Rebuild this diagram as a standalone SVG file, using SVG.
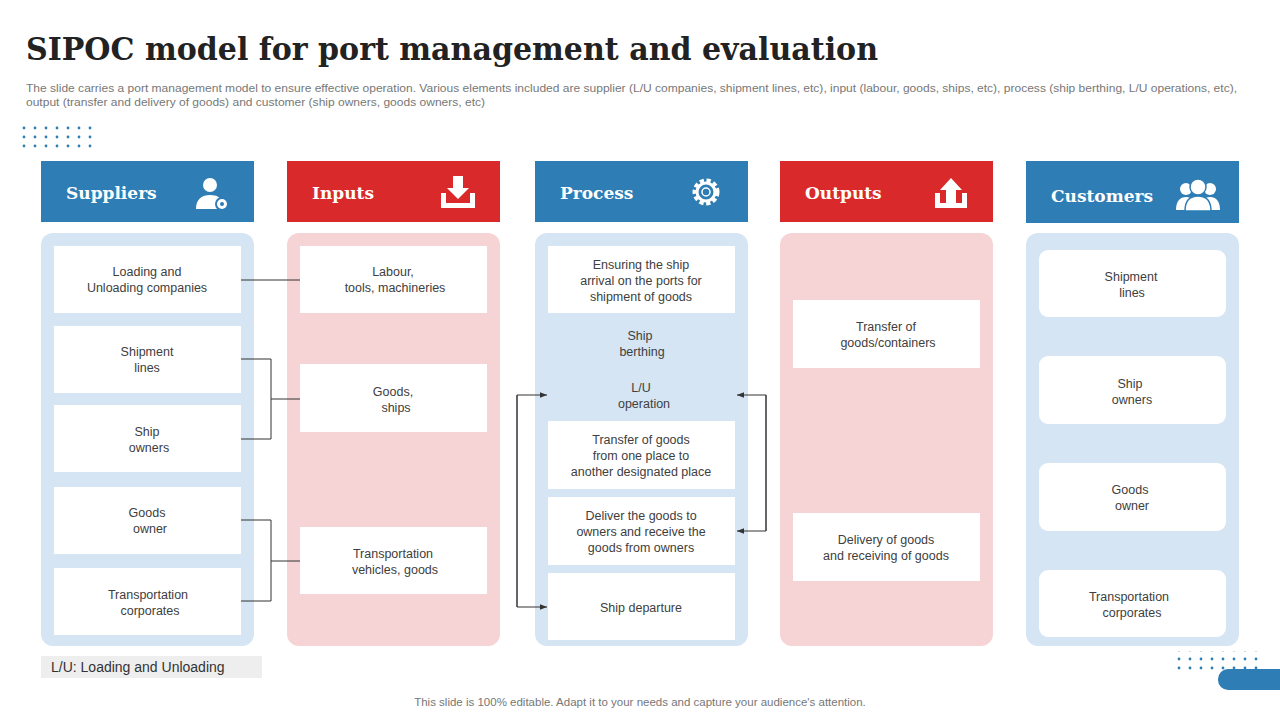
<svg xmlns="http://www.w3.org/2000/svg" width="1280" height="720" viewBox="0 0 1280 720">
<defs>
<style>
.hb{fill:#2E7DB5}.hr{fill:#D9292B}
.pb{fill:#D5E5F3}.pr{fill:#F6D3D5}
.bx{fill:#fff}
.t{font-family:"Liberation Sans","Open Sans",sans-serif;font-size:12.5px;fill:#404040;text-anchor:middle}
.h{font-family:"DejaVu Serif","Liberation Serif",serif;font-weight:bold;font-size:17px;fill:#fff}
.c{stroke:#333;stroke-width:1;fill:none}
.ic{fill:#fff}
</style>
<marker id="a" viewBox="0 0 10 10" refX="10" refY="5" markerWidth="7" markerHeight="7" orient="auto"><path d="M0,1L10,5L0,9z" fill="#333"/></marker>
<pattern id="dots" width="11" height="9" patternUnits="userSpaceOnUse"><circle cx="2" cy="2" r="1.4" fill="#2E7DB5"/></pattern>
</defs>
<rect width="1280" height="720" fill="#fff"/>
<text x="26" y="60" font-family="DejaVu Serif,Liberation Serif,serif" font-weight="bold" font-size="31" fill="#222" textLength="852" lengthAdjust="spacingAndGlyphs">SIPOC model for port management and evaluation</text>
<text font-family="Liberation Sans,Open Sans,sans-serif" font-size="10.5" fill="#777"><tspan x="26" y="92" textLength="1211" lengthAdjust="spacingAndGlyphs">The slide carries a port management model to ensure effective operation. Various elements included are supplier (L/U companies, shipment lines, etc), input (labour, goods, ships, etc), process (ship berthing, L/U operations, etc),</tspan></text>
<text x="26" y="106" font-family="Liberation Sans,Open Sans,sans-serif" font-size="10.5" fill="#777" textLength="459" lengthAdjust="spacingAndGlyphs">output (transfer and delivery of goods) and customer (ship owners, goods owners, etc)</text>
<rect x="15" y="124" width="82" height="24" fill="url(#dots)"/>
<rect x="1176" y="651" width="82" height="24" fill="url(#dots)"/>
<rect x="1218" y="669" width="80" height="21" rx="10" fill="#2E7DB5"/>

<g id="suppliers">
<rect class="hb" x="41" y="161" width="213" height="61"/>
<text class="h" x="66" y="199">Suppliers</text>
<circle class="ic" cx="210" cy="185" r="7"/><path class="ic" d="M196,209c0-10 6-14 14-14s10,3 12,6a7,7 0 0 0-2,8z"/><circle cx="222" cy="204" r="6" fill="#fff" stroke="#2E7DB5" stroke-width="2"/><circle cx="222" cy="204" r="2" fill="#2E7DB5"/>
<rect class="pb" x="41" y="233" width="213" height="413" rx="12"/>
<rect class="bx" x="54" y="246" width="187" height="67"/><text class="t" x="147" y="276">Loading and<tspan x="147" dy="16">Unloading companies</tspan></text>
<rect class="bx" x="54" y="326" width="187" height="67"/><text class="t" x="147" y="356">Shipment<tspan x="147" dy="16">lines</tspan></text>
<rect class="bx" x="54" y="405" width="187" height="67"/><text class="t" x="147" y="436">Ship<tspan x="149" dy="16">owners</tspan></text>
<rect class="bx" x="54" y="487" width="187" height="67"/><text class="t" x="147" y="517">Goods<tspan x="150" dy="16">owner</tspan></text>
<rect class="bx" x="54" y="568" width="187" height="67"/><text class="t" x="148" y="599">Transportation<tspan x="150" dy="16">corporates</tspan></text>
</g>

<g id="inputs">
<rect class="hr" x="287" y="161" width="213" height="61"/>
<text class="h" x="312" y="199">Inputs</text>
<path class="ic" d="M453,176h10v12h6l-11,11l-11-11h6z"/><path class="ic" d="M441,193h5v10h24v-10h5v15h-34z"/>
<rect class="pr" x="287" y="233" width="213" height="413" rx="12"/>
<rect class="bx" x="300" y="246" width="187" height="67"/><text class="t" x="393" y="276">Labour,<tspan x="395" dy="16">tools, machineries</tspan></text>
<rect class="bx" x="300" y="364" width="187" height="68"/><text class="t" x="393" y="396">Goods,<tspan x="396" dy="16">ships</tspan></text>
<rect class="bx" x="300" y="527" width="187" height="67"/><text class="t" x="393" y="558">Transportation<tspan x="395" dy="16">vehicles, goods</tspan></text>
</g>

<g id="process">
<rect class="hb" x="535" y="161" width="213" height="61"/>
<text class="h" x="560" y="199">Process</text>
<circle cx="706" cy="192" r="11" fill="none" stroke="#fff" stroke-width="5" stroke-dasharray="4 2.5"/><circle cx="706" cy="192" r="9" fill="none" stroke="#fff" stroke-width="3"/><circle cx="706" cy="192" r="4" fill="none" stroke="#fff" stroke-width="1.5"/>
<rect class="pb" x="535" y="233" width="213" height="413" rx="12"/>
<rect class="bx" x="548" y="246" width="187" height="67"/><text class="t" x="641" y="269">Ensuring the ship<tspan x="641" dy="16">arrival  on the ports for</tspan><tspan x="641" dy="16">shipment of goods</tspan></text>
<text class="t" x="640" y="340">Ship<tspan x="642" dy="16">berthing</tspan></text>
<text class="t" x="641" y="392">L/U<tspan x="644" dy="16">operation</tspan></text>
<rect class="bx" x="548" y="421" width="187" height="68"/><text class="t" x="641" y="444">Transfer  of goods<tspan x="641" dy="16">from one place to</tspan><tspan x="641" dy="16">another designated  place</tspan></text>
<rect class="bx" x="548" y="497" width="187" height="68"/><text class="t" x="641" y="520">Deliver  the goods to<tspan x="641" dy="16">owners and receive  the</tspan><tspan x="641" dy="16">goods from owners</tspan></text>
<rect class="bx" x="548" y="573" width="187" height="67"/><text class="t" x="641" y="612">Ship departure</text>
</g>

<g id="outputs">
<rect class="hr" x="780" y="161" width="213" height="61"/>
<text class="h" x="805" y="199">Outputs</text>
<path class="ic" d="M946,208v-18h-6l11-12l11,12h-6v18z"/><path class="ic" d="M935,193h5v10h22v-10h5v15h-32z"/>
<rect class="pr" x="780" y="233" width="213" height="413" rx="12"/>
<rect class="bx" x="793" y="300" width="187" height="68"/><text class="t" x="886" y="331">Transfer  of<tspan x="888" dy="16">goods/containers</tspan></text>
<rect class="bx" x="793" y="513" width="187" height="68"/><text class="t" x="886" y="544">Delivery  of goods<tspan x="886" dy="16">and receiving of goods</tspan></text>
</g>

<g id="customers">
<rect class="hb" x="1026" y="161" width="213" height="62"/>
<text class="h" x="1051" y="202">Customers</text>
<circle class="ic" cx="1186" cy="189" r="6"/><circle class="ic" cx="1210" cy="189" r="6"/><path class="ic" d="M1176,210c0-9 4-13 10-13s10,4 10,13z"/><path class="ic" d="M1200,210c0-9 4-13 10-13s10,4 10,13z"/>
<circle cx="1198" cy="187" r="8" fill="#fff" stroke="#2E7DB5" stroke-width="1.5"/><path d="M1185,211c0-11 5-15 13-15s13,4 13,15z" fill="#fff" stroke="#2E7DB5" stroke-width="1.5"/>
<rect class="pb" x="1026" y="233" width="213" height="413" rx="12"/>
<rect class="bx" x="1039" y="250" width="187" height="67" rx="9"/><text class="t" x="1131" y="281">Shipment<tspan x="1132" dy="16">lines</tspan></text>
<rect class="bx" x="1039" y="356" width="187" height="68" rx="9"/><text class="t" x="1130" y="388">Ship<tspan x="1132" dy="16">owners</tspan></text>
<rect class="bx" x="1039" y="463" width="187" height="68" rx="9"/><text class="t" x="1130" y="494">Goods<tspan x="1132" dy="16">owner</tspan></text>
<rect class="bx" x="1039" y="570" width="187" height="67" rx="9"/><text class="t" x="1129" y="601">Transportation<tspan x="1132" dy="16">corporates</tspan></text>
</g>

<g id="connectors">
<path class="c" d="M241,280H300"/>
<path class="c" d="M241,359H271V439H241M271,399H300"/>
<path class="c" d="M241,520H271V601H241M271,561H300"/>
<path class="c" d="M517,395V607H547" marker-end="url(#a)"/>
<path class="c" d="M517,607V395H547" marker-end="url(#a)"/>
<path class="c" d="M766,531V395H737" marker-end="url(#a)"/>
<path class="c" d="M766,395V531H737" marker-end="url(#a)"/>
</g>

<rect x="41" y="656" width="221" height="22" fill="#EEEEEE"/>
<text x="51" y="672" font-family="Liberation Sans,Open Sans,sans-serif" font-size="14" fill="#333">L/U: Loading and Unloading</text>
<text x="640" y="706" text-anchor="middle" font-family="Liberation Sans,Open Sans,sans-serif" font-size="11.5" fill="#777">This slide is 100% editable. Adapt it to your needs and capture your audience's attention.</text>
</svg>
